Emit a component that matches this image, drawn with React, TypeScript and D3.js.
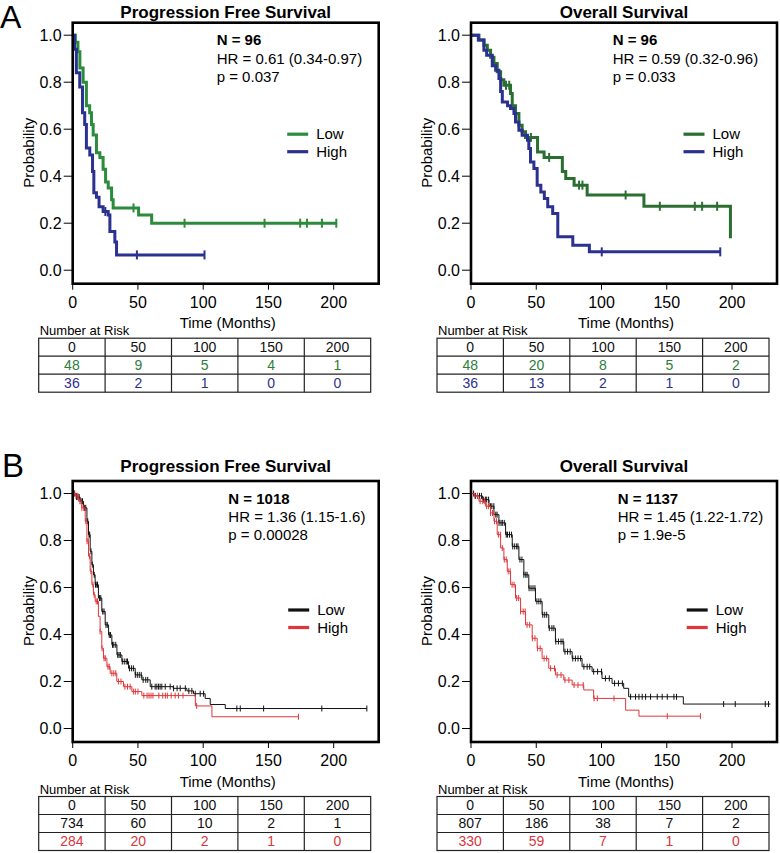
import React from 'react';
import * as d3 from 'd3';

type Pt = [number, number];

const timeTicks = [0, 50, 100, 150, 200];
const probTicks = [0, 0.2, 0.4, 0.6, 0.8, 1.0];
const groups = ['Low', 'High'];

// ---- A: progression free survival (n = 96)
const pfsA_low: Pt[] = [[0, 1], [2, 0.97], [4, 0.93], [5.5, 0.86], [8, 0.8], [10.5, 0.7], [13, 0.67], [14.4, 0.62], [15.7, 0.575], [18.2, 0.5], [20.8, 0.48], [23.3, 0.43], [25.2, 0.375], [27.2, 0.35], [29.8, 0.3], [31, 0.265], [50.5, 0.235], [60.5, 0.2], [202, 0.2]];
const pfsA_high: Pt[] = [[0, 1], [1.5, 0.94], [2.8, 0.84], [5.4, 0.78], [7.5, 0.67], [9.2, 0.62], [10.5, 0.52], [13.1, 0.49], [15.2, 0.42], [16.2, 0.33], [18.2, 0.31], [20.2, 0.27], [23.3, 0.25], [27.2, 0.235], [28.5, 0.165], [32.3, 0.12], [33.6, 0.065], [101, 0.065]];
const pfsA_lowCens = [46.6, 85.7, 147, 174.3, 179.5, 191, 202];
const pfsA_highCens = [25, 49.2, 101];
const pfsA_info = ['N = 96', 'HR = 0.61 (0.34-0.97)', 'p = 0.037'];
const pfsA_risk = [[48, 9, 5, 4, 1], [36, 2, 1, 0, 0]];

// ---- A: overall survival (n = 96)
const osA_low: Pt[] = [[0, 1], [6.1, 0.98], [9.9, 0.957], [12.5, 0.936], [15, 0.906], [17.6, 0.88], [20.1, 0.844], [22.7, 0.81], [25.2, 0.787], [30.3, 0.752], [31.6, 0.7], [34.1, 0.667], [36.7, 0.617], [39.2, 0.589], [41.8, 0.565], [51, 0.503], [56, 0.48], [70, 0.42], [72.6, 0.39], [79, 0.362], [89, 0.32], [132.5, 0.272], [198.8, 0.136]];
const osA_high: Pt[] = [[0, 1], [5.6, 0.98], [9.9, 0.936], [12, 0.915], [16.3, 0.87], [18.9, 0.851], [21.4, 0.816], [22.7, 0.76], [24, 0.716], [28, 0.7], [30.3, 0.688], [32.9, 0.667], [34.1, 0.631], [36.7, 0.596], [39.2, 0.574], [43.3, 0.553], [44.3, 0.518], [45.6, 0.46], [48.2, 0.433], [50.7, 0.362], [53.5, 0.333], [56.2, 0.305], [58.8, 0.27], [62.6, 0.241], [66.5, 0.142], [78, 0.106], [90.7, 0.078], [191, 0.078]];
const osA_lowCens = [26.8, 29.3, 45.9, 59.9, 82.8, 85.4, 118.5, 144.7, 171.5, 177.1, 188.6];
const osA_highCens = [100.2, 191];
const osA_info = ['N = 96', 'HR = 0.59 (0.32-0.96)', 'p = 0.033'];
const osA_risk = [[48, 20, 8, 5, 2], [36, 13, 2, 1, 0]];

// ---- B: progression free survival (n = 1018)
const pfsB_low: Pt[] = [[0, 1], [3, 0.985], [5.7, 0.967], [8.3, 0.939], [10.9, 0.882], [12.1, 0.825], [13.4, 0.754], [14.7, 0.697], [15.9, 0.654], [17.2, 0.612], [19.7, 0.555], [22.3, 0.498], [24.9, 0.441], [27.5, 0.398], [30, 0.356], [33.9, 0.313], [37.7, 0.285], [42.8, 0.256], [47.9, 0.228], [53, 0.207], [59.4, 0.178], [77, 0.171], [87.5, 0.16], [92.6, 0.148], [101.5, 0.128], [105.4, 0.102], [116.9, 0.085], [225.4, 0.085]];
const pfsB_high: Pt[] = [[0, 1], [2, 0.99], [4.5, 0.967], [7, 0.939], [9.6, 0.882], [10.9, 0.797], [12.1, 0.733], [13.4, 0.669], [14.7, 0.612], [15.9, 0.569], [17.2, 0.541], [19.7, 0.477], [21, 0.413], [22.3, 0.341], [23.6, 0.299], [26.2, 0.263], [28.7, 0.235], [33.8, 0.2], [38.9, 0.178], [45.3, 0.157], [53, 0.14], [94, 0.096], [106.7, 0.05], [173, 0.05]];
const pfsB_lowCens = [1.5, 3, 4, 5, 6.5, 7.5, 9, 10, 11.5, 12.5, 13, 14, 15, 16.5, 17.5, 18.5, 19, 20.5, 21.5, 23, 24, 25.5, 26.5, 28, 29, 30.5, 31.5, 33, 34.5, 35.5, 36.5, 38, 39.5, 41, 42, 43.5, 45, 46.5, 48, 49.5, 51, 52.5, 54, 56, 57.5, 60.6, 63.2, 64.5, 65.8, 67, 68.3, 70.9, 74.7, 77.3, 80, 82.4, 86.3, 89, 91.3, 93.9, 97.7, 100.3, 125.8, 128.4, 146.3, 190.9, 225.4];
const pfsB_highCens = [1, 2.5, 4, 5.5, 7, 8.5, 10, 11, 12, 13, 14, 15.5, 16.5, 18, 19, 21, 22.5, 24, 25, 27, 28, 30, 31.5, 33, 35, 37, 40, 42, 44, 46.5, 48, 50, 54.5, 57, 58.5, 60, 61.5, 66, 69, 71, 72.5, 75.5, 78.5, 81, 84.5, 95, 173];
const pfsB_info = ['N = 1018', 'HR = 1.36 (1.15-1.6)', 'p = 0.00028'];
const pfsB_risk = [[734, 60, 10, 2, 1], [284, 20, 2, 1, 0]];

// ---- B: overall survival (n = 1137)
const osB_low: Pt[] = [[0, 1], [2.3, 0.99], [8.7, 0.974], [13.8, 0.946], [17.6, 0.91], [21.4, 0.875], [26.5, 0.825], [31.6, 0.775], [36.7, 0.719], [40.5, 0.654], [44.3, 0.597], [49.4, 0.541], [54.5, 0.484], [59.6, 0.427], [64.7, 0.37], [71.1, 0.327], [77.5, 0.298], [85.1, 0.263], [92.8, 0.242], [100.4, 0.213], [108.1, 0.192], [117, 0.171], [120.8, 0.135], [162.7, 0.104], [229.4, 0.104]];
const osB_high: Pt[] = [[0, 1], [2.3, 0.99], [6.1, 0.967], [11.2, 0.946], [15, 0.917], [17.6, 0.882], [20.1, 0.825], [22.7, 0.768], [25.2, 0.719], [27.8, 0.669], [30.3, 0.612], [34.1, 0.555], [38, 0.498], [41.8, 0.441], [46.9, 0.384], [50.7, 0.341], [54.5, 0.298], [59.6, 0.256], [64.7, 0.228], [71.1, 0.206], [77.5, 0.185], [86.4, 0.164], [94, 0.128], [118.5, 0.078], [128.7, 0.0525], [175.8, 0.0525]];
const osB_lowCens = [2, 3.5, 5, 6.5, 8, 9.5, 11, 12, 13.5, 15, 16, 17.5, 19, 20, 21.5, 23, 24, 25.5, 27, 28, 29.5, 31, 32, 33.5, 35, 36, 37.5, 39, 40.5, 42, 43, 44.5, 46, 47.5, 49, 50.5, 52, 53.5, 55, 56.5, 58, 60, 62, 63.5, 65, 67, 69, 70.5, 72, 74, 76, 78, 80, 82, 84, 86.5, 89, 91, 94, 97, 100, 103, 106, 110, 113, 116, 122.3, 126.1, 128.7, 131.2, 133.8, 137.6, 142.7, 146.5, 150.4, 155.5, 157.5, 193.6, 202.5, 225.5, 228];
const osB_highCens = [3, 5, 7, 9, 10.5, 12, 13.5, 15, 16.5, 18, 19.5, 21, 22.5, 24, 25.5, 27, 28.5, 30, 31.5, 33, 35, 36.5, 38, 40, 41.5, 43, 45, 47, 49, 51, 53, 56, 58, 61, 64, 66, 69, 72, 75, 79, 82, 86, 94.3, 96.8, 109.6, 150.4, 175.8];
const osB_info = ['N = 1137', 'HR = 1.45 (1.22-1.72)', 'p = 1.9e-5'];
const osB_risk = [[807, 186, 38, 7, 2], [330, 59, 7, 1, 0]];

const FONT = 'Liberation Sans, Arial, Helvetica, sans-serif';
const BOX_W = 306;
const BOX_H = 261;

type Curve = { steps: Pt[]; cens: number[]; color: string };

type PanelProps = {
  left: number;
  top: number;
  title: string;
  titleY: number;
  info: string[];
  infoX: number;
  legendX: number;
  legendY: number;
  curves: Curve[];
  risk: number[][];
  riskColors: string[];
  thick: boolean;
};

const bis = d3.bisector((d: Pt) => d[0]).right;
function survAt(steps: Pt[], t: number) {
  const i = Math.max(0, bis(steps, t) - 1);
  return steps[i][1];
}

function KMPanel(p: PanelProps) {
  const { left, top, thick } = p;
  const x = d3.scaleLinear().domain([0, 200]).range([left, left + 261]);
  const y = d3.scaleLinear().domain([0, 1]).range([top + 247.5, top + 12.5]);
  const line = d3.line<Pt>().x(d => x(d[0])).y(d => y(d[1])).curve(d3.curveStepAfter);
  const lw = thick ? 3 : 1;
  const ch = thick ? 4.5 : 3;
  const tLeft = left - 34;
  const colW = 332 / 5;
  const tTop = top + 315.5;
  const rowH = 18;

  return (
    <g fontFamily={FONT}>
      <text x={left + BOX_W / 2} y={p.titleY} textAnchor="middle" fontSize={17} fontWeight="bold">{p.title}</text>
      {/* curves */}
      {p.curves.map((c, i) => (
        <g key={i} stroke={c.color} fill="none" strokeWidth={lw}>
          <path d={line(c.steps) || ''} strokeLinejoin="miter" />
          {c.cens.map((t, j) => {
            const cy = y(survAt(c.steps, t));
            return <line key={j} x1={x(t)} x2={x(t)} y1={cy - ch} y2={cy + ch} strokeWidth={thick ? 2 : 1} />;
          })}
        </g>
      ))}
      <rect x={left} y={top} width={BOX_W} height={BOX_H} fill="none" stroke="#000" strokeWidth={2.6} />
      {/* y axis */}
      {probTicks.map(v => (
        <g key={v}>
          <line x1={left - 9} x2={left} y1={y(v)} y2={y(v)} stroke="#000" strokeWidth={1} />
          <text x={left - 11} y={y(v)} dy="0.35em" textAnchor="end" fontSize={16}>{v.toFixed(1)}</text>
        </g>
      ))}
      <text transform={`translate(${left - 44},${top + 130}) rotate(-90)`} textAnchor="middle" dy="0.35em" fontSize={15}>Probability</text>
      {/* x axis */}
      {timeTicks.map(v => (
        <g key={v}>
          <line x1={x(v)} x2={x(v)} y1={top + BOX_H} y2={top + BOX_H + 6} stroke="#000" strokeWidth={1} />
          <text x={x(v)} y={top + 279.5} dy="0.35em" textAnchor="middle" fontSize={16}>{v}</text>
        </g>
      ))}
      <text x={left + 155} y={top + 300.5} dy="0.35em" textAnchor="middle" fontSize={15}>Time (Months)</text>
      {/* stats */}
      {p.info.map((s, i) => (
        <text key={i} x={left + p.infoX} y={top + 17.5 + i * 18.3} dy="0.35em" fontSize={15} fontWeight={i === 0 ? 'bold' : 'normal'}>{s}</text>
      ))}
      {/* legend */}
      {groups.map((g, i) => (
        <g key={g}>
          <line x1={left + p.legendX} x2={left + p.legendX + 21} y1={top + p.legendY + i * 17.5} y2={top + p.legendY + i * 17.5} stroke={p.curves[i].color} strokeWidth={3.2} />
          <text x={left + p.legendX + 29} y={top + p.legendY + i * 17.5} dy="0.35em" fontSize={15}>{g}</text>
        </g>
      ))}
      {/* risk table */}
      <text x={tLeft + 1} y={top + 308} dy="0.35em" fontSize={13}>Number at Risk</text>
      <rect x={tLeft} y={tTop} width={332} height={rowH * 3} fill="none" stroke="#222" strokeWidth={1.2} />
      {[1, 2].map(r => (
        <line key={r} x1={tLeft} x2={tLeft + 332} y1={tTop + r * rowH} y2={tTop + r * rowH} stroke="#222" strokeWidth={1.2} />
      ))}
      {[1, 2, 3, 4].map(c => (
        <line key={c} x1={tLeft + c * colW} x2={tLeft + c * colW} y1={tTop} y2={tTop + rowH * 3} stroke="#222" strokeWidth={1.2} />
      ))}
      {[timeTicks, ...p.risk].map((row, r) => row.map((v, c) => (
        <text key={`${r}-${c}`} x={tLeft + c * colW + colW / 2} y={tTop + r * rowH + rowH / 2} dy="0.35em" textAnchor="middle" fontSize={14}
          fill={r === 0 ? '#111' : p.riskColors[r - 1]}>{v}</text>
      )))}
    </g>
  );
}

export default function App() {
  return (
    <svg width={780} height={853} style={{ position: 'absolute', left: 0, top: 0, background: '#fff' }}>
      <rect width={780} height={853} fill="#fff" />
      <text x={0} y={28} fontFamily={FONT} fontSize={32}>A</text>
      <text x={2} y={477} fontFamily={FONT} fontSize={33}>B</text>
      <KMPanel left={72.7} top={22.7} title="Progression Free Survival" titleY={17.5} info={pfsA_info} infoX={144} legendX={214.5} legendY={111.5}
        curves={[{ steps: pfsA_low, cens: pfsA_lowCens, color: '#2a8c3c' }, { steps: pfsA_high, cens: pfsA_highCens, color: '#2b3190' }]}
        risk={pfsA_risk} riskColors={['#2e7d3a', '#2e3190']} thick />
      <KMPanel left={471} top={22.7} title="Overall Survival" titleY={17.5} info={osA_info} infoX={141.7} legendX={212.5} legendY={111.5}
        curves={[{ steps: osA_low, cens: osA_lowCens, color: '#2b6e32' }, { steps: osA_high, cens: osA_highCens, color: '#2b3190' }]}
        risk={osA_risk} riskColors={['#2e7d3a', '#2e3190']} thick />
      <KMPanel left={72.7} top={481} title="Progression Free Survival" titleY={472} info={pfsB_info} infoX={155.6} legendX={215.5} legendY={129}
        curves={[{ steps: pfsB_low, cens: pfsB_lowCens, color: '#111' }, { steps: pfsB_high, cens: pfsB_highCens, color: '#e0363a' }]}
        risk={pfsB_risk} riskColors={['#111', '#d9363e']} thick={false} />
      <KMPanel left={471} top={481} title="Overall Survival" titleY={472} info={osB_info} infoX={146.7} legendX={215.7} legendY={129}
        curves={[{ steps: osB_low, cens: osB_lowCens, color: '#111' }, { steps: osB_high, cens: osB_highCens, color: '#e0363a' }]}
        risk={osB_risk} riskColors={['#111', '#d9363e']} thick={false} />
    </svg>
  );
}
